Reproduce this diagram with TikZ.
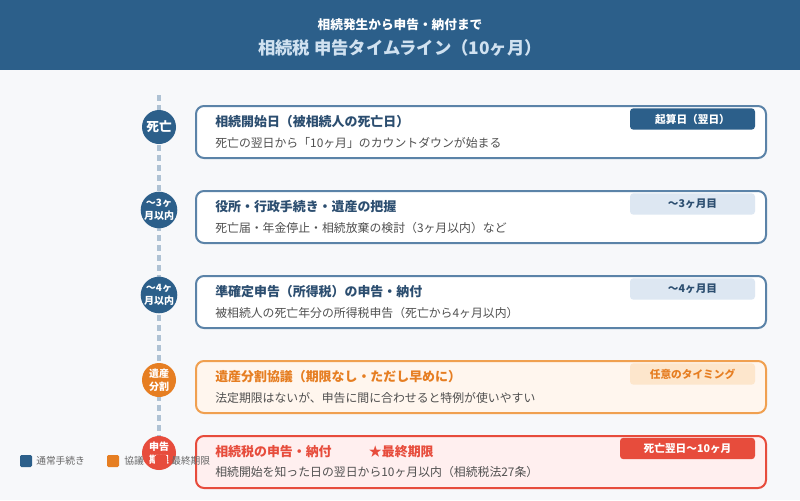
\documentclass[tikz,border=0pt]{standalone}
\usepackage{fontspec}
\setmainfont{Noto Sans CJK JP}
\usetikzlibrary{positioning}

\definecolor{navy}{HTML}{2C5F8A}
\definecolor{navytext}{HTML}{2C4E70}
\definecolor{cardline}{HTML}{5B83A8}
\definecolor{tagblue}{HTML}{DDE7F2}
\definecolor{orng}{HTML}{E67E22}
\definecolor{orngline}{HTML}{F0A050}
\definecolor{orngfill}{HTML}{FFF6EE}
\definecolor{orngtag}{HTML}{FDE6CC}
\definecolor{rd}{HTML}{E74C3C}
\definecolor{rdfill}{HTML}{FFEFEF}
\definecolor{bodytext}{HTML}{505050}
\definecolor{bg}{HTML}{F7F8FA}
\definecolor{dashline}{HTML}{AFC2D4}
\definecolor{titlelight}{HTML}{D0E1F0}
\definecolor{legendtext}{HTML}{666666}

\tikzset{
  card/.style={draw=cardline, line width=1.5pt, fill=white, rounded corners=6pt,
    minimum width=427.5pt, minimum height=39pt, anchor=north west, inner sep=0pt},
  ttl/.style={anchor=west, inner sep=0pt, text=navytext, font=\bfseries\fontsize{9.7}{11}\selectfont},
  sub/.style={anchor=west, inner sep=0pt, text=bodytext, font=\fontsize{8.9}{10}\selectfont},
  tag/.style={rounded corners=2.5pt, minimum width=93.75pt, minimum height=16pt,
    inner sep=0pt, font=\bfseries\fontsize{8}{9}\selectfont},
  dot/.style={circle, fill=navy, minimum size=25.5pt, inner sep=0pt, text=white,
    align=center, font=\bfseries\fontsize{7.5}{9.5}\selectfont},
  key/.style={minimum size=9pt, inner sep=0pt, rounded corners=1pt},
  keytext/.style={anchor=west, inner sep=0pt, text=legendtext, font=\fontsize{7.3}{8}\selectfont},
}

\begin{document}
\begin{tikzpicture}[x=0.75pt, y=-0.75pt]
    \fill[bg] (0,0) rectangle (800,500);
    \fill[navy] (0,0) rectangle (800,70);

    \node[text=white, font=\bfseries\fontsize{9.5}{11}\selectfont] (head) at (400,25) {相続発生から申告・納付まで};
    \node[text=titlelight, font=\bfseries\fontsize{13}{15}\selectfont] (title) at (400,48) {相続税 申告タイムライン（10ヶ月）};

    % timeline
    \coordinate (top) at (159,95);
    \coordinate (bottom) at (159,440);
    \draw[dashline, line width=2.6pt, dash pattern=on 4.5pt off 3pt] (top) -- (bottom);

    % cards
    \node[card] (c1) at (195,105) {};
    \node[card] (c2) at (195,190) {};
    \node[card] (c3) at (195,275) {};
    \node[card, draw=orngline, fill=orngfill] (c4) at (195,360) {};
    \node[card, draw=rd, fill=rdfill] (c5) at (195,435) {};

    \node[ttl] (t1) at (215,122) {相続開始日（被相続人の死亡日）};
    \node[sub] (s1) at (215,143) {死亡の翌日から「10ヶ月」のカウントダウンが始まる};
    \node[tag, fill=navy, text=white] (g1) at (692.5,119) {起算日（翌日）};

    \node[ttl] (t2) at (215,207) {役所・行政手続き・遺産の把握};
    \node[sub] (s2) at (215,228) {死亡届・年金停止・相続放棄の検討（3ヶ月以内）など};
    \node[tag, fill=tagblue, text=navytext] (g2) at (692.5,204) {〜3ヶ月目};

    \node[ttl] (t3) at (215,292) {準確定申告（所得税）の申告・納付};
    \node[sub] (s3) at (215,313) {被相続人の死亡年分の所得税申告（死亡から4ヶ月以内）};
    \node[tag, fill=tagblue, text=navytext] (g3) at (692.5,289) {〜4ヶ月目};

    \node[ttl, text=orng] (t4) at (215,377) {遺産分割協議（期限なし・ただし早めに）};
    \node[sub] (s4) at (215,398) {法定期限はないが、申告に間に合わせると特例が使いやすい};
    \node[tag, fill=orngtag, text=orng] (g4) at (692.5,374) {任意のタイミング};

    \node[ttl, text=rd] (t5) at (215,452) {相続税の申告・納付\hspace{28pt}★最終期限};
    \node[sub] (s5) at (215,472) {相続開始を知った日の翌日から10ヶ月以内（相続税法27条）};
    \node[tag, fill=rd, text=white, minimum width=101.25pt] (g5) at (687.5,448.5) {死亡翌日〜10ヶ月};

    % circles on the line
    \node[dot, font=\bfseries\fontsize{9.5}{11}\selectfont] (d1) at (159,127) {死亡};
    \node[dot] (d2) at (159,210) {〜3ヶ\\月以内};
    \node[dot] (d3) at (159,295) {〜4ヶ\\月以内};
    \node[dot, fill=orng] (d4) at (159,380) {遺産\\分割};
    \node[dot, fill=rd] (d5) at (159,453) {申告\\期限};

    % legend
    \node[key, fill=navy] (k1) at (26,461) {};
    \node[keytext] (l1) at (36,461) {通常手続き};
    \node[key, fill=orng] (k2) at (113,461) {};
    \node[keytext] (l2) at (124,461) {協議};
    \node[key, fill=rd] (k3) at (161,461) {};
    \node[keytext] (l3) at (171,461) {最終期限};
\end{tikzpicture}
\end{document}
